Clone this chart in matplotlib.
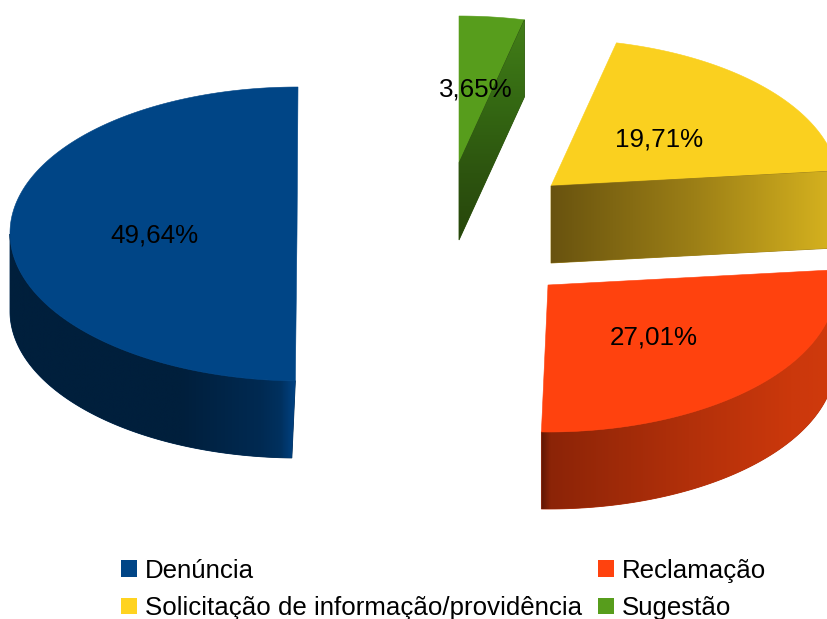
import numpy as np
import matplotlib
matplotlib.use("Agg")
import matplotlib.pyplot as plt
from matplotlib.patches import Patch, Polygon
from matplotlib.colors import LinearSegmentedColormap

# --- data ---
categories = ["Denúncia", "Reclamação", "Solicitação de informação/providência", "Sugestão"]
shares = [49.64, 27.01, 19.71, 3.65]

# --- styles and layout ---
colors = ["#004586", "#ff420e", "#fad01f", "#579d1c"]
legend_colors = ["#004586", "#ff420e", "#ffd320", "#579d1c"]
centers = [(300, 234), (548, 285), (551, 186), (459, 163)]
apexes = [(297, 234), (548, 285), (551, 186), (459, 163)]
radii_x = [290, 288, 288, 288]
skew = [0.0136, 0.0, 0.0, 0.0]
label_pos = [(154, 236), (654, 338), (659, 140), (476, 90)]
lean = [-3.5, -0.5, 0.0, 0.0]
RY, DEPTH = 147, 77

plt.rcParams["font.family"] = ["Liberation Sans", "DejaVu Sans"]
fig = plt.figure(figsize=(8.28, 6.19), dpi=100)
ax = fig.add_axes([0, 0, 1, 1])


def rim(i, t):
    c = centers[i]
    t = np.radians(t)
    dy = -RY * np.sin(t)
    return np.column_stack([c[0] + radii_x[i] * np.cos(t) + skew[i] * dy, c[1] + dy])


_z = [1]


def z():
    _z[0] += 1
    return _z[0]


def gradient(poly, stops, vertical=False):
    """Fill poly with a solid mean tone, then a clipped linear gradient."""
    poly = np.asarray(poly)
    ax.fill(poly[:, 0], poly[:, 1], color=stops[len(stops) // 2][1], lw=0.6, zorder=z())
    x0, x1, y0, y1 = poly[:, 0].min(), poly[:, 0].max(), poly[:, 1].min(), poly[:, 1].max()
    cmap = LinearSegmentedColormap.from_list("g", stops)
    g = np.linspace(0, 1, 400)
    g = g[:, None] if vertical else g[None, :]
    im = ax.imshow(g, cmap=cmap, extent=(x0, x1, y1, y0), aspect="auto", vmin=0, vmax=1,
                   interpolation="bilinear", zorder=z())
    im.set_clip_path(Polygon(poly, transform=ax.transData))


# start at the top and run counter-clockwise
edges = 90 + np.concatenate([[0], np.cumsum(shares)]) / np.sum(shares) * 360
spans = list(zip(edges[:-1], edges[1:]))


def top_face(i):
    arc = rim(i, np.linspace(spans[i][0], spans[i][1], 200))
    pts = np.vstack([[apexes[i]], arc])
    ax.fill(pts[:, 0], pts[:, 1], color=colors[i], lw=0.4, zorder=z())


def outer_wall(i, a, b, stops):
    arc = rim(i, np.linspace(a, b, 200))
    low = arc + np.linspace(0, 1, 200)[:, None] * [lean[i], 0] + [0, DEPTH]
    gradient(np.vstack([arc, low[::-1]]), stops)


# Denúncia
outer_wall(0, 180, spans[0][1],
           [(0.0, "#001f3c"), (0.6, "#001f3c"), (0.88, "#002a52"), (0.95, "#00315f"), (1.0, "#004283")])
top_face(0)

# Sugestão: radial wall on the near side
c = np.array(centers[3], float)
r = rim(3, spans[3][0])[0]
top_face(3)
gradient([c, r, r + [0, DEPTH], c + [0, DEPTH]],
         [(0.0, "#437f18"), (0.35, "#356a13"), (0.7, "#2d540f"), (1.0, "#27460b")], vertical=True)

# Solicitação: radial wall
c = np.array(centers[2], float)
r = rim(2, spans[2][0])[0]
top_face(2)
gradient([c, r, r + [0, DEPTH], c + [0, DEPTH]],
         [(0.0, "#69530f"), (0.5, "#9c7f16"), (1.0, "#d8b41f")])

# Reclamação
outer_wall(1, spans[1][0], 360,
           [(0.0, "#641804"), (0.03, "#8c2407"), (0.5, "#b2300a"), (0.85, "#cb380c"), (1.0, "#d03a0c")])
top_face(1)

for v, p in zip(shares, label_pos):
    ax.text(p[0], p[1], f"{v:.2f}%".replace(".", ","), fontsize=18.7, color="#000000",
            ha="center", va="center", zorder=100)

order = [0, 2, 1, 3]
handles = [Patch(facecolor=legend_colors[i], edgecolor="none", label=categories[i]) for i in order]
ax.legend(handles=handles, ncols=2, frameon=False, fontsize=18.6,
          loc="lower left", bbox_to_anchor=(121 / 828, -1 / 619), bbox_transform=ax.transAxes,
          borderaxespad=0, borderpad=0, handlelength=0.62, handleheight=0.62,
          handletextpad=0.3, columnspacing=0.62, labelspacing=0.52)

ax.set_xlim(0, 828)
ax.set_ylim(619, 0)
ax.axis("off")
fig.savefig("out.png", dpi=100)
